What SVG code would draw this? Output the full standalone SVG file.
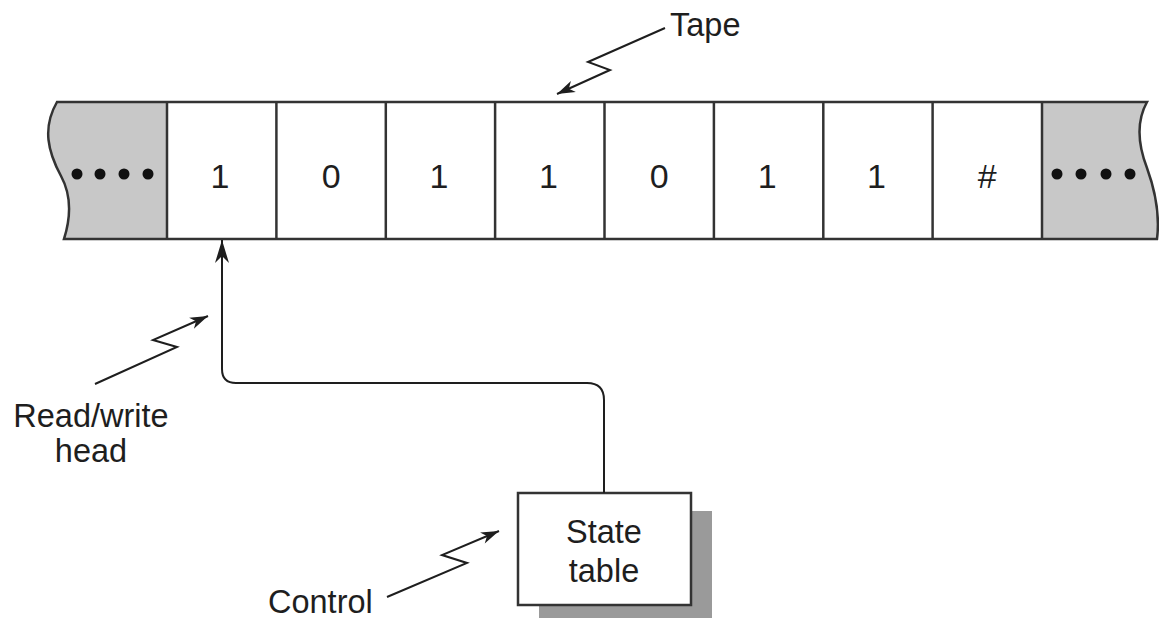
<svg xmlns="http://www.w3.org/2000/svg" width="1159" height="618" viewBox="0 0 1159 618">
  <style>
    .lbl { font-family: "Liberation Sans", Arial, sans-serif; font-size: 32.5px; fill: #1e1e1e; }
    .dig { font-family: "Liberation Sans", Arial, sans-serif; font-size: 34px; fill: #1e1e1e; text-anchor: middle; }
    .mid { text-anchor: middle; }
    .edge { fill: none; stroke: #333; stroke-width: 2.5; stroke-linejoin: miter; }
    .div { stroke: #333; stroke-width: 2.5; }
    .lead { fill: none; stroke: #1e1e1e; stroke-width: 2; stroke-linejoin: miter; }
    .dot { fill: #111; }
  </style>
  <defs>
    <marker id="tip" viewBox="-20 -7 21 14" refX="0" refY="0" markerWidth="21" markerHeight="14" markerUnits="userSpaceOnUse" orient="auto">
      <path d="M0,0 L-18,-6 L-13,0 L-18,6 Z" fill="#1e1e1e"/>
    </marker>
    <marker id="tipBig" viewBox="-24 -8 25 16" refX="0" refY="0" markerWidth="25" markerHeight="16" markerUnits="userSpaceOnUse" orient="auto">
      <path d="M0,0 L-23,-7 L-16,0 L-23,7 Z" fill="#1e1e1e"/>
    </marker>
  </defs>

  <!-- tape strip -->
  <g id="tape">
    <path d="M57,102 L1147,102 C1137,120 1137,142 1147,168 C1155,190 1160,215 1157,239 L64,239 C70,220 73,198 61,176 C48,152 42,128 57,102 Z" fill="#c8c8c8"/>
    <rect x="167" y="102" width="875" height="137" fill="#fff"/>
    <path class="edge" d="M57,102 L1147,102 C1137,120 1137,142 1147,168 C1155,190 1160,215 1157,239 L64,239 C70,220 73,198 61,176 C48,152 42,128 57,102 Z"/>
    <g class="div">
      <line x1="167" y1="102" x2="167" y2="239"/>
      <line x1="276.4" y1="102" x2="276.4" y2="239"/>
      <line x1="385.8" y1="102" x2="385.8" y2="239"/>
      <line x1="495.1" y1="102" x2="495.1" y2="239"/>
      <line x1="604.5" y1="102" x2="604.5" y2="239"/>
      <line x1="713.9" y1="102" x2="713.9" y2="239"/>
      <line x1="823.3" y1="102" x2="823.3" y2="239"/>
      <line x1="932.6" y1="102" x2="932.6" y2="239"/>
      <line x1="1042" y1="102" x2="1042" y2="239"/>
    </g>
    <g>
      <circle class="dot" cx="77" cy="174" r="5.5"/>
      <circle class="dot" cx="100" cy="174" r="5.5"/>
      <circle class="dot" cx="124" cy="174" r="5.5"/>
      <circle class="dot" cx="148" cy="174" r="5.5"/>
      <circle class="dot" cx="1057" cy="174" r="5.5"/>
      <circle class="dot" cx="1081" cy="174" r="5.5"/>
      <circle class="dot" cx="1106" cy="174" r="5.5"/>
      <circle class="dot" cx="1130" cy="174" r="5.5"/>
    </g>
    <g>
      <text class="dig" x="220" y="188">1</text>
      <text class="dig" x="331.1" y="188">0</text>
      <text class="dig" x="439" y="188">1</text>
      <text class="dig" x="548.4" y="188">1</text>
      <text class="dig" x="659.2" y="188">0</text>
      <text class="dig" x="767.2" y="188">1</text>
      <text class="dig" x="876.5" y="188">1</text>
      <text class="dig" x="987.3" y="188">#</text>
    </g>
  </g>

  <!-- control unit -->
  <g id="state-table">
    <rect x="539" y="511" width="173" height="112" fill="#9a9a9a"/>
    <rect x="518" y="493" width="173" height="112" fill="#fff" stroke="#333" stroke-width="2.5"/>
    <text class="lbl mid" x="604" y="543">State</text>
    <text class="lbl mid" x="604" y="582">table</text>
  </g>

  <!-- labels -->
  <g id="label-tape">
    <text class="lbl" x="670" y="36">Tape</text>
  </g>
  <g id="label-head">
    <text class="lbl mid" x="91" y="427">Read/write</text>
    <text class="lbl mid" x="91" y="462">head</text>
  </g>
  <g id="label-control">
    <text class="lbl" x="268" y="613">Control</text>
  </g>

  <!-- connectors -->
  <g id="connectors">
    <path class="lead" d="M604,493 L604,400 Q604,383 587,383 L236,383 Q222,383 222,369 L222,240" marker-end="url(#tipBig)"/>
    <path class="lead" d="M665,28 L588,62 L610,70 L557,94" marker-end="url(#tip)"/>
    <path class="lead" d="M95,384 L177,347 L153,340 L208,316" marker-end="url(#tip)"/>
    <path class="lead" d="M387,597 L467,563 L442,555 L499,531" marker-end="url(#tip)"/>
  </g>
</svg>
